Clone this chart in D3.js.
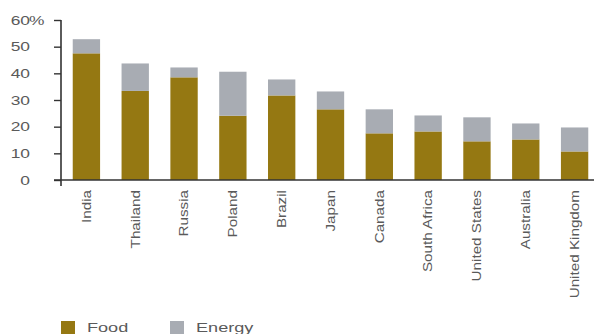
<!DOCTYPE html>
<html>
<head>
<meta charset="utf-8">
<script src="https://cdn.jsdelivr.net/npm/d3@7"></script>
<style>
  html, body { margin: 0; padding: 0; background: #fff; }
  svg { display: block; font-family: "Liberation Sans", Arial, sans-serif; }
</style>
</head>
<body>
<svg id="chart" width="594" height="334"></svg>
<script>
// Share of spending on food and energy, by country (%)
const countries = ["India", "Thailand", "Russia", "Poland", "Brazil", "Japan",
                   "Canada", "South Africa", "United States", "Australia", "United Kingdom"];
const food   = [47.5, 33.4, 38.5, 24.1, 31.7, 26.5, 17.5, 18.2, 14.5, 15.2, 10.7];
const energy = [ 5.3, 10.3,  3.7, 16.5,  6.0,  6.7,  9.0,  6.0,  9.0,  6.0,  9.0];
const yTicks = [0, 10, 20, 30, 40, 50, 60];
const seriesNames  = ["Food", "Energy"];
const seriesColors = ["#957812", "#a8acb3"];

const svg = d3.select("#chart");
const axisX = 61, baseY = 180, topY = 20;
const textColor = "#5a5a5a";
const axisColor = "#333";

const x = d3.scaleBand().domain(countries).range([62, 599]).paddingInner(0.44).paddingOuter(0.22);
const y = d3.scaleLinear().domain([0, 60]).range([baseY, topY]);

const rows = countries.map((c, i) => ({ country: c, Food: food[i], Energy: energy[i] }));
const stacked = d3.stack().keys(seriesNames)(rows);

// stacked bars
svg.append("g").selectAll("g").data(stacked).join("g")
  .attr("fill", (d, i) => seriesColors[i])
  .selectAll("rect").data(d => d).join("rect")
  .attr("x", d => x(d.data.country))
  .attr("width", x.bandwidth())
  .attr("y", d => y(d[1]))
  .attr("height", d => y(d[0]) - y(d[1]));

// y axis
const yAxis = svg.append("g").attr("transform", `translate(${axisX},0)`)
  .call(d3.axisLeft(y).tickValues(yTicks).tickSize(7).tickSizeOuter(0).tickFormat(d3.format("d")));
yAxis.select(".domain").attr("stroke", axisColor).attr("stroke-width", 1.6)
  .attr("d", `M0,${topY}V${baseY + 6}`);
yAxis.selectAll(".tick line").attr("stroke", axisColor).attr("stroke-width", 1.4);
const sx = 1.45;
yAxis.selectAll(".tick text")
  .attr("fill", textColor).attr("font-size", 12)
  .attr("x", -31 / sx).attr("dy", "0.36em")
  .attr("transform", `scale(${sx},1)`);
// percent sign after the top label
yAxis.selectAll(".tick").filter(d => d === 60).append("text")
  .text("%").attr("fill", textColor).attr("font-size", 12)
  .attr("text-anchor", "start").attr("x", -32 / sx).attr("dy", "0.36em")
  .attr("transform", `scale(${sx},1)`);

// x axis baseline
svg.append("line")
  .attr("x1", axisX - 7).attr("x2", 594).attr("y1", baseY).attr("y2", baseY)
  .attr("stroke", axisColor).attr("stroke-width", 1.6);

// rotated category labels
svg.append("g").selectAll("text").data(countries).join("text")
  .attr("transform", d => `translate(${x(d) + x.bandwidth() / 2},190) rotate(-90) scale(1.27,1)`)
  .attr("text-anchor", "end").attr("dy", "0.36em")
  .attr("font-size", 12).attr("fill", textColor)
  .text(d => d);

// legend
const legend = svg.append("g").selectAll("g").data(seriesNames).join("g")
  .attr("transform", (d, i) => `translate(${61 + i * 109},321)`);
legend.append("rect").attr("width", 14).attr("height", 13)
  .attr("fill", (d, i) => seriesColors[i]);
legend.append("text")
  .attr("transform", "translate(26,11) scale(1.45,1)")
  .attr("font-size", 12.5).attr("fill", textColor)
  .text(d => d);
</script>
</body>
</html>
